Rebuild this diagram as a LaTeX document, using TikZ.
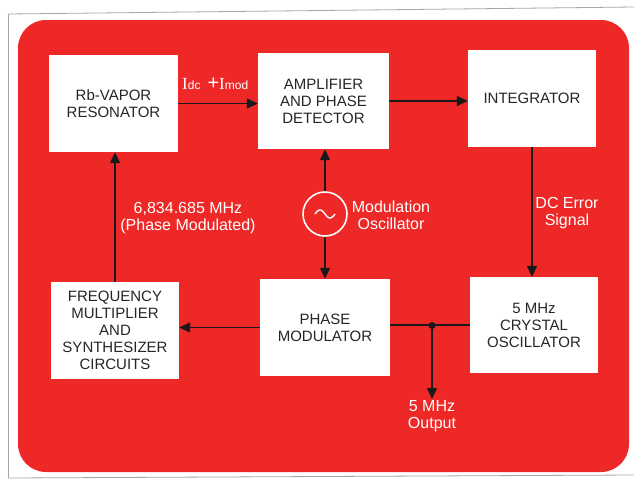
\documentclass[tikz,border=0pt]{standalone}
\usepackage{fontspec}
\setmainfont{Liberation Sans}
\newfontfamily\serifI{Liberation Serif}
\usetikzlibrary{arrows.meta}
\definecolor{bgred}{RGB}{238,40,38}
\begin{document}
\begin{tikzpicture}[x=1pt,y=-1pt,
 blk/.style={fill=white, draw=none, align=center, font=\fontsize{15}{17}\selectfont, text=black!85, inner sep=0pt},
 lbl/.style={text=white, align=center, font=\fontsize{16}{17}\selectfont, inner sep=1pt},
 conn/.style={line width=1.4pt, draw=black!90},
 arr/.style={conn, -{Triangle[length=11pt,width=10pt]}},
]
\useasboundingbox (0,0) rectangle (634,480);
\fill[white] (0,0) rectangle (634,480);
\draw[gray!70, line width=0.8pt] (8,14) -- (634,7);
\draw[gray!70, line width=0.8pt] (8,14) -- (8,478);
\draw[gray!70, line width=0.8pt] (8,478) -- (634,475);
\fill[bgred, rounded corners=28pt] (18,20) rectangle (629,472);

\node[blk, minimum width=129, minimum height=97] (rb) at (113.5,103.5) {Rb-VAPOR\\RESONATOR};
\node[blk, minimum width=131, minimum height=96] (amp) at (323.5,101) {AMPLIFIER\\AND PHASE\\DETECTOR};
\node[blk, minimum width=128, minimum height=97] (int) at (532,98.5) {INTEGRATOR};
\node[blk, minimum width=128, minimum height=97] (fm) at (115,330.5) {FREQUENCY\\MULTIPLIER\\AND\\SYNTHESIZER\\CIRCUITS};
\node[blk, minimum width=130, minimum height=97] (pm) at (325,327.5) {PHASE\\MODULATOR};
\node[blk, minimum width=128, minimum height=96] (xo) at (534,325) {5 MHz\\CRYSTAL\\OSCILLATOR};

\node[circle, draw=white, line width=1.6pt, minimum size=44, inner sep=0pt] (osc) at (325,214) {};
\draw[white, line width=1.4pt, shift={(osc.center)}] plot[domain=-10:10, samples=40, smooth] (\x, {4*sin(\x*18)});

\node[lbl, anchor=base west, font=\fontsize{17}{18}\selectfont] (idc) at (181,89) {{\serifI I}{\fontsize{12}{12}\selectfont dc}\hspace{7pt}{\fontsize{20}{20}\selectfont+}{\serifI I}{\fontsize{12}{12}\selectfont mod}};
\node[lbl] (freq) at (188,218) {6,834.685 MHz\\(Phase Modulated)};
\node[lbl] (modl) at (391,215) {Modulation\\Oscillator};
\node[lbl] (dce) at (567,213) {DC Error\\Signal};
\node[lbl, anchor=north] (out) at (432,399) {5 MHz\\Output};

\draw[arr] (rb.east) -- (rb.east -| amp.west);
\draw[arr] (amp.east) -- (amp.east -| int.west);
\draw[arr] (fm.north) -- (fm.north |- rb.south);
\draw[arr] (osc.north) -- (osc.north |- amp.south);
\draw[arr] (osc.south) -- (osc.south |- pm.north);
\draw[arr] (int.south) -- (int.south |- xo.north);
\draw[conn] (xo.west) -- (xo.west -| pm.east);
\draw[arr] (pm.west) -- (pm.west -| fm.east);
\coordinate (j) at (432,325.5);
\fill[black!90] (j) circle (3.5pt);
\draw[arr] (j) -- (out.north);
\end{tikzpicture}
\end{document}
